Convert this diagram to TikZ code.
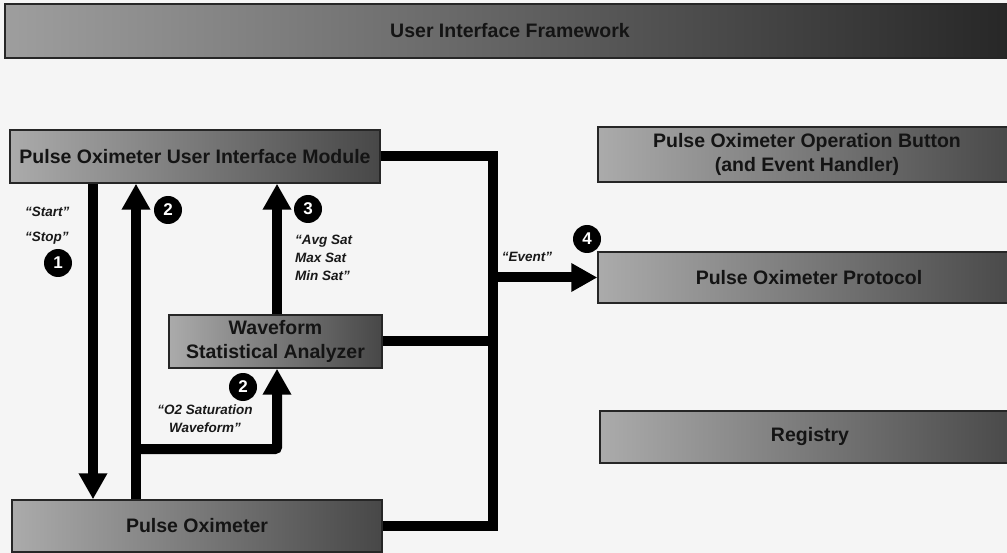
\documentclass[tikz,border=0pt]{standalone}
\usepackage{fontspec}
\setmainfont{Liberation Sans}
\usetikzlibrary{arrows.meta,calc}
\newcommand{\boxfont}{\fontsize{19.5}{24}\selectfont\bfseries}
\newcommand{\lblfont}{\fontsize{13.5}{18}\selectfont\bfseries\itshape}
\newcommand{\badgefont}{\fontsize{17}{17}\selectfont\bfseries}
\tikzset{
  box/.style={draw=black!85, line width=1.4pt, left color=black!33, middle color=black!45,
    right color=black!72, inner sep=0pt, font=\boxfont, align=center, text=black!92},
  conn/.style={line width=10pt, black},
  arr/.style={conn, -{Triangle[length=26pt,width=27pt]}},
  badge/.style={circle, fill=black, minimum size=28pt, inner sep=0pt, text=white, font=\badgefont},
  lbl/.style={font=\lblfont, inner sep=0pt, text=black!90}
}
\begin{document}
\begin{tikzpicture}[x=1pt,y=-1pt]
\useasboundingbox (0,0) rectangle (1007,553);
\clip (0,0) rectangle (1007,553);
\fill[black!4] (0,0) rectangle (1007,553);

% boxes
\node[box, minimum width=1010pt, minimum height=54pt, left color=black!38, middle color=black!28, right color=black!85] (top) at (510,31) {User Interface Framework};
\node[box, minimum width=370pt, minimum height=53pt] (ui) at (195,156.5) {Pulse Oximeter User Interface Module};
\node[box, minimum width=418pt, minimum height=55pt] (btn) at (807,154.5) {Pulse Oximeter Operation Button\\(and Event Handler)};
\node[box, minimum width=422pt, minimum height=51pt] (proto) at (809,277.5) {Pulse Oximeter Protocol};
\node[box, minimum width=420pt, minimum height=52pt] (reg) at (810,437) {Registry};
\node[box, minimum width=213pt, minimum height=53pt] (wave) at (275.5,341.5) {Waveform\\Statistical Analyzer};
\node[box, minimum width=370pt, minimum height=52pt] (po) at (197,526) {Pulse Oximeter};

% coordinates
\coordinate (busx) at (493,277.5);
\coordinate (a1) at (93,0);
\coordinate (a2) at (136,0);
\coordinate (a3) at (277,449);

% connectors
\draw[conn] (ui.east) -| (busx) |- (po.east);
\draw[conn] (wave.east) -- (wave.east -| busx);
\draw[arr] (busx) -- (proto.west);
\draw[arr] (ui.south -| a1) -- (po.north -| a1);
\draw[arr] (po.north -| a2) -- (ui.south -| a2);
\draw[arr, rounded corners=2pt] (a2 |- a3) -- (a3) -- (wave.south -| a3);
\draw[arr] (wave.north -| a3) -- (ui.south -| a3);

% badges
\node[badge] (b1) at (58,263) {1};
\node[badge] (b2a) at (168,210) {2};
\node[badge] (b3) at (308,209) {3};
\node[badge] (b2b) at (243,387) {2};
\node[badge] (b4) at (587,239) {4};

% labels
\node[lbl, anchor=west] (lstart) at (25,212) {“Start”};
\node[lbl, anchor=west] (lstop) at (25,238) {“Stop”};
\node[lbl, anchor=west, align=left] (lavg) at (295,258) {“Avg Sat\\Max Sat\\Min Sat”};
\node[lbl, align=center] (lo2) at (205,419) {“O2 Saturation\\Waveform”};
\node[lbl] (lev) at (527,257) {“Event”};
\end{tikzpicture}
\end{document}
